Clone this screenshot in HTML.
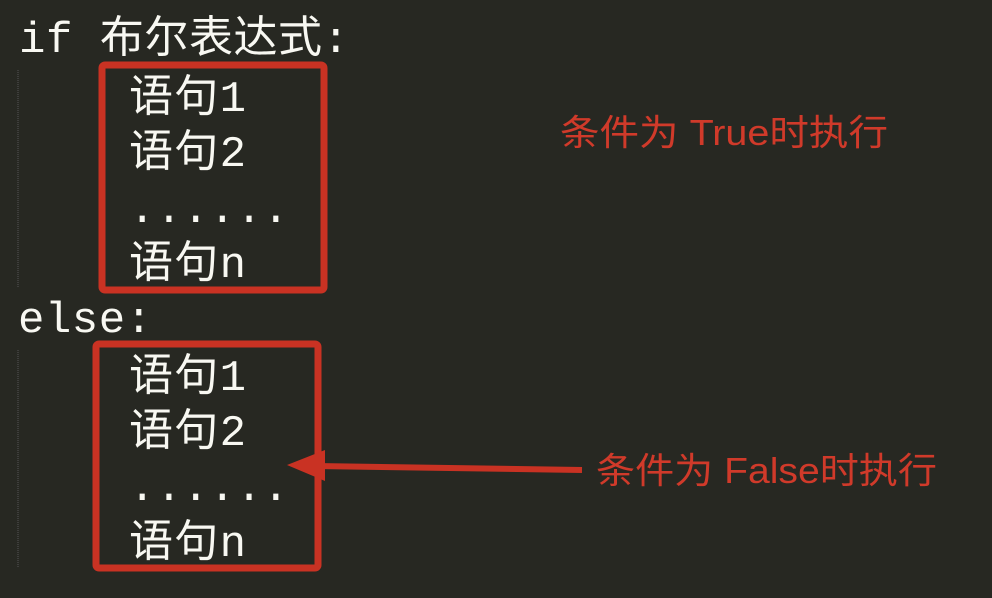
<!DOCTYPE html>
<html><head><meta charset="utf-8"><style>
html,body{margin:0;padding:0;background:#272822;}
svg{display:block}
.c{font-family:"Liberation Mono","Noto Sans CJK SC",monospace;font-size:44px;fill:#f8f8f2}
.r{font-family:"Liberation Sans","Noto Sans CJK SC",sans-serif;font-size:36px;fill:#d03a2a}
</style></head><body>
<svg width="992" height="598" viewBox="0 0 992 598" xmlns="http://www.w3.org/2000/svg">
<rect width="992" height="598" fill="#272822"/>
<line x1="18" y1="70" x2="18" y2="287" stroke="#555" stroke-width="1" stroke-dasharray="1,1"/>
<line x1="18" y1="350" x2="18" y2="567" stroke="#555" stroke-width="1" stroke-dasharray="1,1"/>
<text class="c" x="19" y="52" textLength="330">if 布尔表达式:</text>
<text class="c" x="129" y="111" textLength="117">语句1</text>
<text class="c" x="129" y="166" textLength="117">语句2</text>
<text class="c" x="129" y="222" textLength="160">......</text>
<text class="c" x="129" y="277" textLength="117">语句n</text>
<text class="c" x="18" y="332" textLength="134">else:</text>
<text class="c" x="129" y="390" textLength="117">语句1</text>
<text class="c" x="129" y="445" textLength="117">语句2</text>
<text class="c" x="129" y="500" textLength="160">......</text>
<text class="c" x="129" y="556" textLength="117">语句n</text>
<rect x="102" y="65" width="222" height="225" rx="3" fill="none" stroke="#c93223" stroke-width="7"/>
<rect x="96" y="344" width="222" height="224" rx="3" fill="none" stroke="#c93223" stroke-width="7"/>
<line x1="582" y1="470" x2="315" y2="466" stroke="#c93223" stroke-width="6"/>
<polygon points="287,465 325,450 325,481" fill="#c93223"/>
<text class="r" x="560" y="145" textLength="328" lengthAdjust="spacingAndGlyphs">条件为 True时执行</text>
<text class="r" x="596" y="483" textLength="341" lengthAdjust="spacingAndGlyphs">条件为 False时执行</text>
</svg>
</body></html>
